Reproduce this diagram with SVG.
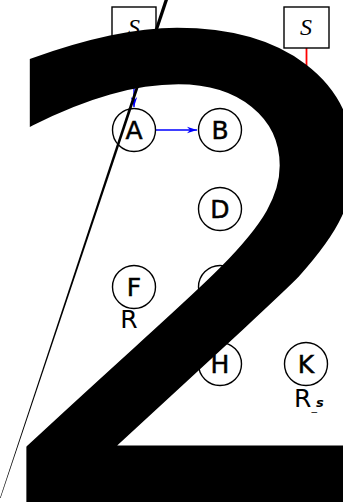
<svg xmlns="http://www.w3.org/2000/svg" width="343" height="502" viewBox="0 0 343 502">
<style>
.node circle{fill:#fff;stroke:#000;stroke-width:1.4}
.node text{font-family:"DejaVu Sans",sans-serif;font-size:25px;text-anchor:middle;fill:#000;stroke:#000;stroke-width:0.5}
.box rect{fill:#fff;stroke:#000;stroke-width:1.4}
.box text{font-family:"Liberation Serif",serif;font-style:italic;font-size:24px;text-anchor:middle}
.lbl{font-family:"Liberation Serif",serif;font-size:25px;fill:#000}
.blue{stroke:#0000ff;stroke-width:1.4;fill:none}
.red{stroke:#ff0000;stroke-width:1.8;fill:none}
.big{font-family:"DejaVu Sans",sans-serif;font-size:640px;fill:#000;stroke:#000;stroke-width:4}
</style>
<defs>
<marker id="ab" markerUnits="userSpaceOnUse" markerWidth="12" markerHeight="8" refX="10" refY="4" orient="auto">
<path d="M0,0.8 L10,4 L0,7.2 L3,4 z" fill="#0000ff"/>
</marker>
</defs>
<g id="connectors">
<line class="blue" x1="134" y1="48" x2="134" y2="107" marker-end="url(#ab)"/>
<line class="blue" x1="156" y1="130" x2="197" y2="130" marker-end="url(#ab)"/>
<line class="red" x1="306.5" y1="48" x2="306.5" y2="187"/>
</g>
<g id="S1" class="box"><rect x="112" y="7" width="44" height="41"/><text x="134" y="35">S</text></g>
<g id="S2" class="box"><rect x="284" y="7" width="45" height="41"/><text x="306" y="35">S</text></g>
<g id="A" class="node"><circle cx="134" cy="130" r="21.5"/><text x="134" y="139">A</text></g>
<g id="B" class="node"><circle cx="220" cy="130" r="21.5"/><text x="220" y="139">B</text></g>
<g id="C" class="node"><circle cx="306" cy="209" r="21.5"/><text class="lbl" x="301" y="251" style="text-anchor:middle;stroke:none">R</text></g>
<g id="D" class="node"><circle cx="220" cy="209" r="21.5"/><text x="220" y="218">D</text></g>
<g id="E" class="node"><circle cx="220" cy="287" r="21.5"/></g>
<g id="F" class="node"><circle cx="134" cy="287" r="21.5"/><text x="134" y="296">F</text><text class="lbl" x="129" y="328" style="text-anchor:middle;stroke:none">R</text></g>
<g id="H" class="node"><circle cx="220" cy="364" r="21.5"/><text x="220" y="373">H</text></g>
<g id="K" class="node"><circle cx="306" cy="364" r="21.5"/><text x="306" y="373">K</text><text class="lbl" x="294" y="407" style="text-anchor:start;stroke:none">R<tspan font-size="11" dy="3">_</tspan><tspan font-size="13" font-weight="bold" font-style="italic" dx="-1" dy="-3">s</tspan></text></g>
<text id="glyph" class="big" x="-15" y="498" transform="translate(-6.5,7) scale(1.1,0.99)">2</text>
<path id="slash" d="M164.5,0 L168,0 L0.6,498 L0,498 z" fill="#000"/>
</svg>
